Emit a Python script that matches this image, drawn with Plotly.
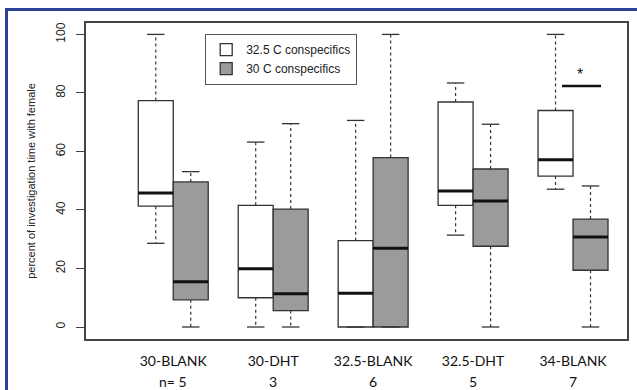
import plotly.graph_objects as go

# ---- data ----
groups = ["30-BLANK", "30-DHT", "32.5-BLANK", "32.5-DHT", "34-BLANK"]
n_labels = ["n= 5", "3", "6", "5", "7"]
series_names = ["32.5 C conspecifics", "30 C conspecifics"]

w_lower = [28.6, 0.0, 0.0, 31.4, 47.1]
w_q1 = [41.3, 10.0, 0.0, 41.6, 51.6]
w_med = [45.8, 19.9, 11.5, 46.5, 57.2]
w_q3 = [77.4, 41.6, 29.5, 76.9, 74.0]
w_upper = [100.0, 63.2, 70.6, 83.4, 100.0]

g_lower = [0.0, 0.0, 0.0, 0.0, 0.0]
g_q1 = [9.3, 5.6, 0.0, 27.6, 19.4]
g_med = [15.5, 11.4, 26.9, 43.1, 30.8]
g_q3 = [49.6, 40.3, 57.9, 54.0, 36.9]
g_upper = [53.1, 69.5, 100.0, 69.3, 48.2]

y_ticks = [0, 20, 40, 60, 80, 100]
sig_x = [4.89, 5.28]
sig_y = 82.4

# ---- styling ----
BOXW = 0.35
OFF = 0.175
LINE = "#333333"
GRAY = "#9b9b9b"
pos = [i + 1 for i in range(len(groups))]

fig = go.Figure()

def add_series(name, xs, lo, q1, med, q3, up, fill):
    fig.add_trace(go.Box(
        x=xs, q1=q1, median=med, q3=q3, lowerfence=q1, upperfence=q3,
        width=BOXW, fillcolor=fill, line=dict(color=LINE, width=1.3),
        whiskerwidth=0, boxpoints=False, name=name, showlegend=True,
        hoverinfo="skip"))
    wx, wy, cx, cy, mx, my = [], [], [], [], [], []
    for x, l, a, m, b, u in zip(xs, lo, q1, med, q3, up):
        wx += [x, x, None, x, x, None]
        wy += [b, u, None, a, l, None]
        cx += [x - OFF / 2, x + OFF / 2, None, x - OFF / 2, x + OFF / 2, None]
        cy += [u, u, None, l, l, None]
        mx += [x - BOXW / 2, x + BOXW / 2, None]
        my += [m, m, None]
    fig.add_trace(go.Scatter(x=wx, y=wy, mode="lines", showlegend=False,
                             line=dict(color=LINE, width=1.2, dash="3px,3px"), hoverinfo="skip"))
    fig.add_trace(go.Scatter(x=cx, y=cy, mode="lines", showlegend=False,
                             line=dict(color=LINE, width=1.3), hoverinfo="skip"))
    fig.add_trace(go.Scatter(x=mx, y=my, mode="lines", showlegend=False,
                             line=dict(color="#111111", width=3), hoverinfo="skip"))

add_series(series_names[0], [p - OFF for p in pos], w_lower, w_q1, w_med, w_q3, w_upper, "white")
add_series(series_names[1], [p + OFF for p in pos], g_lower, g_q1, g_med, g_q3, g_upper, GRAY)

# significance marker
fig.add_trace(go.Scatter(x=sig_x, y=[sig_y, sig_y], mode="lines", showlegend=False,
                         line=dict(color="#111111", width=2.5), hoverinfo="skip"))
fig.add_annotation(x=sum(sig_x) / 2 - 0.02, y=sig_y + 4, text="*", showarrow=False,
                   font=dict(family="Liberation Sans", size=16, color="#111111"))

# n labels
for p, t in zip(pos, n_labels):
    fig.add_annotation(x=p, y=-0.135, xref="x", yref="paper", yanchor="middle",
                       text=t, showarrow=False,
                       font=dict(family="Lato", size=14, color="#111111"))

# blue frame
fig.add_shape(type="rect", xref="paper", yref="paper",
              x0=(6.5 - 86) / 541, x1=1.2, y0=-0.3, y1=(339 - 9.5) / 316,
              line=dict(color="#2b3f95", width=3), layer="above")

fig.update_layout(
    width=637, height=390,
    margin=dict(l=86, r=10, t=23, b=51),
    paper_bgcolor="white", plot_bgcolor="white",
    boxmode="overlay",
    legend=dict(x=(205 - 86) / 541, y=(339 - 34) / 316, xanchor="left", yanchor="top",
                bordercolor="#555555", borderwidth=1.2, bgcolor="white",
                font=dict(family="Liberation Sans", size=12, color="#222222"),
                tracegroupgap=0, itemwidth=30),
    xaxis=dict(range=[0.127, 5.54], tickvals=pos, ticktext=groups, showgrid=False,
               zeroline=False, showline=True, mirror=True, linecolor="#444444", linewidth=1.5,
               ticks="", tickfont=dict(family="Lato", size=14, color="#111111"),
               ticklabelstandoff=8, automargin=False),
    yaxis=dict(range=[-4.1, 103.9], tickvals=y_ticks, showgrid=False, zeroline=False,
               showline=True, mirror=True, linecolor="#444444", linewidth=1.5,
               ticks="outside", ticklen=8, tickcolor="#444444", tickangle=-90,
               tickfont=dict(family="Liberation Sans", size=12, color="#222222"),
               ticklabelstandoff=6, automargin=False,
               title=dict(text="percent of investigation time with female", standoff=17,
                          font=dict(family="Liberation Sans", size=11, color="#222222"))),
)

fig.write_html("out.html", config={"displayModeBar": False},
               post_script="document.body.style.margin='0';")
